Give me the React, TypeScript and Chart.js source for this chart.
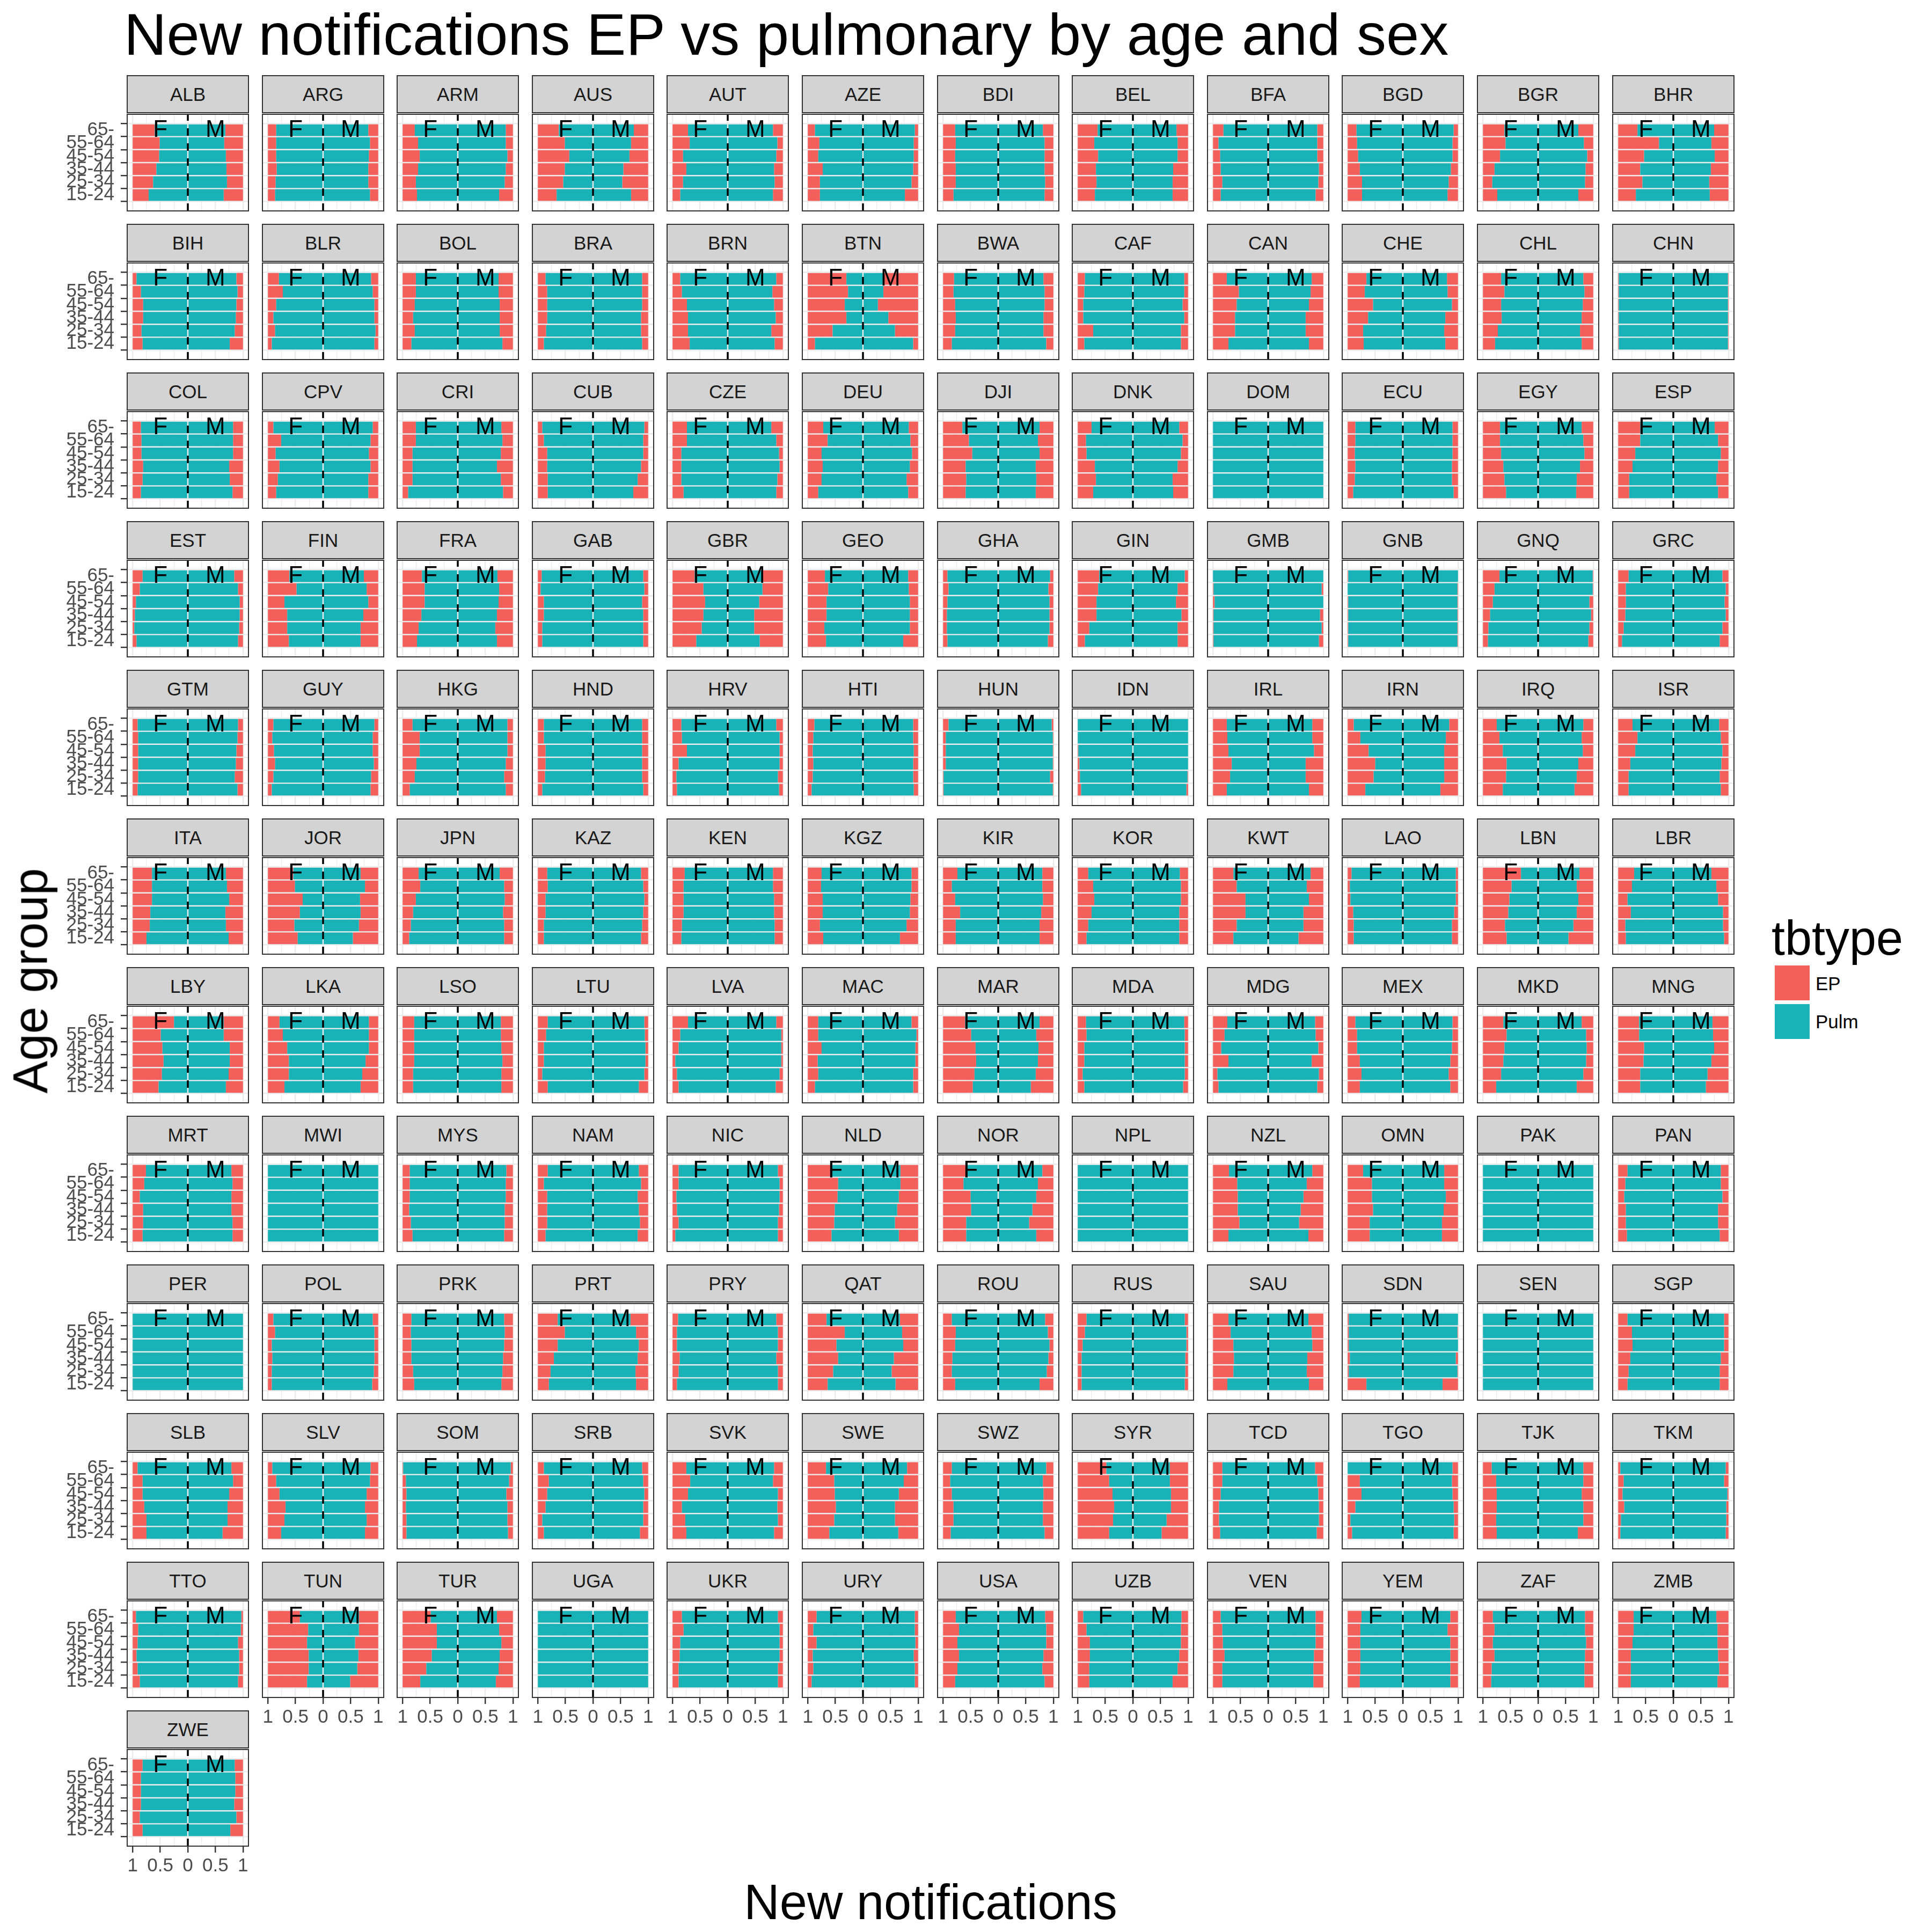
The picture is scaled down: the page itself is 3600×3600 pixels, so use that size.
import React, { useEffect, useRef } from "react";
import { Chart, registerables } from "chart.js";

Chart.register(...registerables);

// ---------------- data ----------------
const TITLE = "New notifications EP vs pulmonary by age and sex";
const X_TITLE = "New notifications";
const Y_TITLE = "Age group";
const LEGEND_TITLE = "tbtype";
const SERIES = ["EP", "Pulm"];
const SEX_LABELS = ["F", "M"];
// age groups listed from top row to bottom row of each panel
const AGE_GROUPS = ["65-", "55-64", "45-54", "35-44", "25-34", "15-24"];
const X_TICKS = [-1, -0.75, -0.5, -0.25, 0, 0.25, 0.5, 0.75, 1];
const X_MAJOR = [-1, -0.5, 0, 0.5, 1];

const COUNTRIES = [
  "ALB", "ARG", "ARM", "AUS", "AUT", "AZE", "BDI", "BEL", "BFA", "BGD", "BGR", "BHR",
  "BIH", "BLR", "BOL", "BRA", "BRN", "BTN", "BWA", "CAF", "CAN", "CHE", "CHL", "CHN",
  "COL", "CPV", "CRI", "CUB", "CZE", "DEU", "DJI", "DNK", "DOM", "ECU", "EGY", "ESP",
  "EST", "FIN", "FRA", "GAB", "GBR", "GEO", "GHA", "GIN", "GMB", "GNB", "GNQ", "GRC",
  "GTM", "GUY", "HKG", "HND", "HRV", "HTI", "HUN", "IDN", "IRL", "IRN", "IRQ", "ISR",
  "ITA", "JOR", "JPN", "KAZ", "KEN", "KGZ", "KIR", "KOR", "KWT", "LAO", "LBN", "LBR",
  "LBY", "LKA", "LSO", "LTU", "LVA", "MAC", "MAR", "MDA", "MDG", "MEX", "MKD", "MNG",
  "MRT", "MWI", "MYS", "NAM", "NIC", "NLD", "NOR", "NPL", "NZL", "OMN", "PAK", "PAN",
  "PER", "POL", "PRK", "PRT", "PRY", "QAT", "ROU", "RUS", "SAU", "SDN", "SEN", "SGP",
  "SLB", "SLV", "SOM", "SRB", "SVK", "SWE", "SWZ", "SYR", "TCD", "TGO", "TJK", "TKM",
  "TTO", "TUN", "TUR", "UGA", "UKR", "URY", "USA", "UZB", "VEN", "YEM", "ZAF", "ZMB",
  "ZWE",
];

// share of EP among female notifications, per country, age groups top to bottom
const EP_FEMALE = [
  [0.40, 0.49, 0.48, 0.43, 0.37, 0.29], // ALB
  [0.15, 0.15, 0.15, 0.16, 0.14, 0.13], // ARG
  [0.22, 0.28, 0.31, 0.28, 0.24, 0.26], // ARM
  [0.38, 0.49, 0.57, 0.49, 0.46, 0.34], // AUS
  [0.28, 0.31, 0.19, 0.25, 0.19, 0.14], // AUT
  [0.13, 0.21, 0.19, 0.27, 0.22, 0.22], // AZE
  [0.22, 0.23, 0.22, 0.23, 0.23, 0.19], // BDI
  [0.36, 0.30, 0.37, 0.33, 0.34, 0.31], // BEL
  [0.19, 0.10, 0.13, 0.14, 0.17, 0.14], // BFA
  [0.16, 0.17, 0.19, 0.22, 0.26, 0.26], // BGD
  [0.39, 0.41, 0.31, 0.21, 0.17, 0.26], // BGR
  [0.35, 0.74, 0.47, 0.40, 0.44, 0.32], // BHR
  [0.07, 0.15, 0.19, 0.19, 0.16, 0.18], // BIH
  [0.20, 0.27, 0.15, 0.10, 0.13, 0.07], // BLR
  [0.24, 0.24, 0.22, 0.19, 0.22, 0.16], // BOL
  [0.14, 0.17, 0.17, 0.17, 0.15, 0.11], // BRA
  [0.14, 0.17, 0.26, 0.28, 0.28, 0.31], // BRN
  [0.70, 0.73, 0.67, 0.70, 0.45, 0.13], // BTN
  [0.20, 0.19, 0.22, 0.23, 0.22, 0.16], // BWA
  [0.13, 0.12, 0.10, 0.10, 0.28, 0.12], // CAF
  [0.25, 0.47, 0.43, 0.40, 0.40, 0.28], // CAN
  [0.34, 0.31, 0.46, 0.37, 0.28, 0.29], // CHE
  [0.33, 0.39, 0.33, 0.34, 0.27, 0.22], // CHL
  [0.01, 0.01, 0.01, 0.01, 0.01, 0.01], // CHN
  [0.15, 0.16, 0.16, 0.19, 0.18, 0.15], // COL
  [0.10, 0.24, 0.14, 0.21, 0.18, 0.15], // CPV
  [0.24, 0.24, 0.18, 0.18, 0.18, 0.10], // CRI
  [0.08, 0.11, 0.17, 0.17, 0.18, 0.18], // CUB
  [0.26, 0.26, 0.16, 0.16, 0.16, 0.20], // CZE
  [0.28, 0.36, 0.25, 0.27, 0.25, 0.19], // DEU
  [0.35, 0.47, 0.53, 0.41, 0.42, 0.41], // DJI
  [0.25, 0.15, 0.16, 0.31, 0.33, 0.28], // DNK
  [0.00, 0.00, 0.00, 0.00, 0.00, 0.00], // DOM
  [0.14, 0.14, 0.13, 0.14, 0.13, 0.10], // ECU
  [0.31, 0.31, 0.33, 0.37, 0.39, 0.42], // EGY
  [0.40, 0.40, 0.31, 0.26, 0.20, 0.20], // ESP
  [0.18, 0.13, 0.06, 0.04, 0.03, 0.07], // EST
  [0.39, 0.52, 0.30, 0.35, 0.35, 0.38], // FIN
  [0.35, 0.40, 0.40, 0.34, 0.29, 0.26], // FRA
  [0.07, 0.05, 0.11, 0.11, 0.08, 0.08], // GAB
  [0.40, 0.56, 0.59, 0.56, 0.53, 0.43], // GBR
  [0.31, 0.37, 0.34, 0.34, 0.30, 0.33], // GEO
  [0.08, 0.10, 0.08, 0.07, 0.07, 0.08], // GHA
  [0.39, 0.37, 0.34, 0.34, 0.21, 0.13], // GIN
  [0.00, 0.01, 0.03, 0.01, 0.01, 0.01], // GMB
  [0.01, 0.00, 0.01, 0.01, 0.01, 0.01], // GNB
  [0.30, 0.21, 0.18, 0.13, 0.10, 0.09], // GNQ
  [0.19, 0.14, 0.14, 0.13, 0.10, 0.07], // GRC
  [0.09, 0.10, 0.10, 0.10, 0.10, 0.09], // GTM
  [0.10, 0.08, 0.11, 0.13, 0.10, 0.07], // GUY
  [0.18, 0.31, 0.31, 0.25, 0.22, 0.13], // HKG
  [0.11, 0.11, 0.14, 0.14, 0.13, 0.08], // HND
  [0.16, 0.17, 0.26, 0.11, 0.07, 0.08], // HRV
  [0.12, 0.10, 0.09, 0.10, 0.09, 0.07], // HTI
  [0.10, 0.05, 0.05, 0.05, 0.01, 0.01], // HUN
  [0.00, 0.00, 0.01, 0.03, 0.04, 0.06], // IDN
  [0.25, 0.26, 0.28, 0.34, 0.31, 0.25], // IRL
  [0.11, 0.23, 0.38, 0.50, 0.47, 0.32], // IRN
  [0.25, 0.30, 0.36, 0.43, 0.42, 0.36], // IRQ
  [0.26, 0.35, 0.31, 0.22, 0.19, 0.19], // ISR
  [0.35, 0.35, 0.35, 0.32, 0.31, 0.25], // ITA
  [0.46, 0.49, 0.63, 0.58, 0.48, 0.54], // JOR
  [0.29, 0.32, 0.24, 0.19, 0.15, 0.12], // JPN
  [0.17, 0.18, 0.14, 0.14, 0.11, 0.11], // KAZ
  [0.22, 0.20, 0.20, 0.20, 0.17, 0.16], // KEN
  [0.25, 0.24, 0.27, 0.27, 0.22, 0.28], // KGZ
  [0.26, 0.16, 0.22, 0.31, 0.23, 0.23], // KIR
  [0.19, 0.28, 0.30, 0.25, 0.19, 0.16], // KOR
  [0.37, 0.43, 0.59, 0.59, 0.43, 0.37], // KWT
  [0.07, 0.04, 0.05, 0.10, 0.11, 0.11], // LAO
  [0.69, 0.52, 0.48, 0.46, 0.40, 0.43], // LBN
  [0.29, 0.25, 0.17, 0.23, 0.13, 0.14], // LBR
  [0.75, 0.51, 0.54, 0.56, 0.53, 0.47], // LBY
  [0.21, 0.27, 0.35, 0.38, 0.38, 0.30], // LKA
  [0.21, 0.21, 0.21, 0.21, 0.19, 0.19], // LSO
  [0.18, 0.15, 0.11, 0.11, 0.08, 0.18], // LTU
  [0.28, 0.14, 0.11, 0.05, 0.08, 0.11], // LVA
  [0.19, 0.19, 0.25, 0.18, 0.19, 0.13], // MAC
  [0.40, 0.51, 0.59, 0.60, 0.57, 0.54], // MAR
  [0.15, 0.16, 0.12, 0.12, 0.09, 0.12], // MDA
  [0.26, 0.21, 0.15, 0.28, 0.08, 0.10], // MDG
  [0.14, 0.17, 0.17, 0.22, 0.25, 0.22], // MEX
  [0.37, 0.43, 0.39, 0.37, 0.33, 0.24], // MKD
  [0.38, 0.38, 0.47, 0.46, 0.40, 0.40], // MNG
  [0.24, 0.21, 0.13, 0.19, 0.19, 0.18], // MRT
  [0.00, 0.00, 0.00, 0.00, 0.00, 0.00], // MWI
  [0.13, 0.13, 0.13, 0.12, 0.15, 0.18], // MYS
  [0.18, 0.11, 0.17, 0.17, 0.17, 0.14], // NAM
  [0.11, 0.11, 0.07, 0.08, 0.11, 0.05], // NIC
  [0.42, 0.55, 0.54, 0.49, 0.48, 0.43], // NLD
  [0.41, 0.37, 0.50, 0.51, 0.42, 0.42], // NOR
  [0.00, 0.00, 0.00, 0.00, 0.00, 0.00], // NPL
  [0.29, 0.44, 0.45, 0.45, 0.48, 0.28], // NZL
  [0.28, 0.44, 0.44, 0.46, 0.40, 0.40], // OMN
  [0.00, 0.00, 0.00, 0.00, 0.00, 0.00], // PAK
  [0.17, 0.13, 0.11, 0.14, 0.14, 0.16], // PAN
  [0.00, 0.00, 0.00, 0.00, 0.00, 0.00], // PER
  [0.10, 0.13, 0.07, 0.08, 0.07, 0.07], // POL
  [0.16, 0.15, 0.16, 0.16, 0.19, 0.21], // PRK
  [0.36, 0.49, 0.36, 0.29, 0.23, 0.20], // PRT
  [0.10, 0.08, 0.08, 0.13, 0.11, 0.08], // PRY
  [0.34, 0.67, 0.52, 0.55, 0.46, 0.36], // QAT
  [0.16, 0.23, 0.22, 0.17, 0.16, 0.22], // ROU
  [0.16, 0.13, 0.09, 0.07, 0.07, 0.07], // RUS
  [0.28, 0.32, 0.37, 0.38, 0.37, 0.26], // SAU
  [0.02, 0.02, 0.02, 0.04, 0.02, 0.34], // SDN
  [0.00, 0.00, 0.00, 0.00, 0.00, 0.00], // SEN
  [0.17, 0.25, 0.26, 0.22, 0.19, 0.17], // SGP
  [0.09, 0.18, 0.18, 0.21, 0.25, 0.25], // SLB
  [0.08, 0.15, 0.21, 0.32, 0.30, 0.24], // SLV
  [0.01, 0.06, 0.07, 0.06, 0.07, 0.07], // SOM
  [0.11, 0.20, 0.17, 0.14, 0.08, 0.11], // SRB
  [0.25, 0.32, 0.28, 0.17, 0.23, 0.25], // SVK
  [0.33, 0.48, 0.49, 0.51, 0.48, 0.39], // SWE
  [0.16, 0.13, 0.16, 0.19, 0.19, 0.14], // SWZ
  [0.52, 0.57, 0.63, 0.66, 0.64, 0.57], // SYR
  [0.17, 0.17, 0.14, 0.11, 0.11, 0.13], // TCD
  [0.00, 0.22, 0.25, 0.14, 0.05, 0.08], // TGO
  [0.16, 0.24, 0.25, 0.25, 0.24, 0.25], // TJK
  [0.04, 0.10, 0.08, 0.11, 0.05, 0.04], // TKM
  [0.06, 0.10, 0.09, 0.07, 0.09, 0.13], // TTO
  [0.58, 0.73, 0.71, 0.74, 0.74, 0.71], // TUN
  [0.51, 0.62, 0.62, 0.53, 0.43, 0.32], // TUR
  [0.00, 0.00, 0.00, 0.00, 0.00, 0.00], // UGA
  [0.17, 0.20, 0.14, 0.13, 0.11, 0.11], // UKR
  [0.16, 0.10, 0.16, 0.09, 0.10, 0.07], // URY
  [0.23, 0.29, 0.26, 0.29, 0.26, 0.22], // USA
  [0.10, 0.16, 0.22, 0.22, 0.21, 0.21], // UZB
  [0.14, 0.17, 0.18, 0.21, 0.17, 0.17], // VEN
  [0.25, 0.23, 0.23, 0.23, 0.23, 0.22], // YEM
  [0.18, 0.21, 0.18, 0.21, 0.16, 0.15], // ZAF
  [0.28, 0.28, 0.26, 0.23, 0.23, 0.23], // ZMB
  [0.18, 0.15, 0.15, 0.15, 0.13, 0.18], // ZWE
];

// share of EP among male notifications, per country, age groups top to bottom
const EP_MALE = [
  [0.32, 0.34, 0.31, 0.30, 0.29, 0.35], // ALB
  [0.18, 0.15, 0.17, 0.18, 0.18, 0.15], // ARG
  [0.13, 0.13, 0.10, 0.13, 0.15, 0.25], // ARM
  [0.26, 0.31, 0.34, 0.45, 0.47, 0.31], // AUS
  [0.18, 0.10, 0.12, 0.16, 0.15, 0.18], // AUT
  [0.06, 0.08, 0.08, 0.09, 0.12, 0.24], // AZE
  [0.19, 0.16, 0.16, 0.16, 0.15, 0.16], // BDI
  [0.21, 0.19, 0.19, 0.27, 0.28, 0.28], // BEL
  [0.11, 0.11, 0.11, 0.08, 0.09, 0.14], // BFA
  [0.08, 0.10, 0.10, 0.13, 0.17, 0.19], // BGD
  [0.27, 0.17, 0.11, 0.14, 0.15, 0.27], // BGR
  [0.26, 0.31, 0.25, 0.32, 0.35, 0.34], // BHR
  [0.12, 0.10, 0.12, 0.13, 0.15, 0.24], // BIH
  [0.13, 0.10, 0.07, 0.07, 0.05, 0.07], // BLR
  [0.26, 0.26, 0.24, 0.24, 0.24, 0.19], // BOL
  [0.11, 0.11, 0.11, 0.13, 0.13, 0.11], // BRA
  [0.12, 0.19, 0.16, 0.13, 0.21, 0.15], // BRN
  [0.61, 0.63, 0.73, 0.54, 0.42, 0.09], // BTN
  [0.18, 0.16, 0.16, 0.18, 0.18, 0.13], // BWA
  [0.07, 0.07, 0.10, 0.07, 0.13, 0.13], // CAF
  [0.21, 0.23, 0.26, 0.32, 0.32, 0.26], // CAN
  [0.20, 0.19, 0.11, 0.23, 0.25, 0.23], // CHE
  [0.18, 0.16, 0.19, 0.21, 0.24, 0.21], // CHL
  [0.01, 0.01, 0.01, 0.01, 0.01, 0.01], // CHN
  [0.18, 0.18, 0.18, 0.25, 0.24, 0.19], // COL
  [0.10, 0.14, 0.17, 0.14, 0.18, 0.18], // CPV
  [0.21, 0.19, 0.22, 0.29, 0.22, 0.18], // CRI
  [0.07, 0.09, 0.09, 0.13, 0.19, 0.27], // CUB
  [0.21, 0.12, 0.07, 0.06, 0.10, 0.12], // CZE
  [0.17, 0.14, 0.11, 0.15, 0.21, 0.18], // DEU
  [0.25, 0.28, 0.25, 0.32, 0.31, 0.32], // DJI
  [0.16, 0.10, 0.13, 0.19, 0.28, 0.27], // DNK
  [0.00, 0.00, 0.00, 0.00, 0.00, 0.00], // DOM
  [0.10, 0.10, 0.10, 0.11, 0.11, 0.08], // ECU
  [0.21, 0.18, 0.16, 0.24, 0.30, 0.31], // EGY
  [0.25, 0.19, 0.14, 0.19, 0.22, 0.19], // ESP
  [0.16, 0.09, 0.06, 0.06, 0.07, 0.09], // EST
  [0.26, 0.21, 0.18, 0.27, 0.32, 0.32], // FIN
  [0.28, 0.25, 0.26, 0.29, 0.32, 0.29], // FRA
  [0.09, 0.07, 0.11, 0.09, 0.09, 0.09], // GAB
  [0.37, 0.37, 0.43, 0.52, 0.52, 0.42], // GBR
  [0.18, 0.17, 0.15, 0.15, 0.15, 0.27], // GEO
  [0.06, 0.09, 0.07, 0.07, 0.07, 0.10], // GHA
  [0.06, 0.19, 0.22, 0.12, 0.19, 0.19], // GIN
  [0.00, 0.03, 0.00, 0.06, 0.03, 0.08], // GMB
  [0.00, 0.01, 0.01, 0.01, 0.01, 0.01], // GNB
  [0.01, 0.01, 0.07, 0.04, 0.07, 0.09], // GNQ
  [0.11, 0.05, 0.07, 0.05, 0.11, 0.16], // GRC
  [0.09, 0.10, 0.12, 0.13, 0.15, 0.10], // GTM
  [0.07, 0.10, 0.10, 0.08, 0.13, 0.14], // GUY
  [0.10, 0.10, 0.10, 0.13, 0.16, 0.13], // HKG
  [0.11, 0.11, 0.11, 0.11, 0.11, 0.09], // HND
  [0.12, 0.06, 0.06, 0.06, 0.09, 0.07], // HRV
  [0.09, 0.09, 0.08, 0.09, 0.09, 0.08], // HTI
  [0.03, 0.01, 0.01, 0.01, 0.06, 0.01], // HUN
  [0.00, 0.00, 0.00, 0.00, 0.01, 0.03], // IDN
  [0.20, 0.20, 0.17, 0.32, 0.32, 0.26], // IRL
  [0.16, 0.22, 0.25, 0.25, 0.25, 0.32], // IRN
  [0.18, 0.21, 0.19, 0.27, 0.30, 0.34], // IRQ
  [0.17, 0.14, 0.11, 0.13, 0.16, 0.14], // ISR
  [0.31, 0.29, 0.25, 0.32, 0.31, 0.26], // ITA
  [0.32, 0.24, 0.33, 0.32, 0.35, 0.46], // JOR
  [0.24, 0.16, 0.15, 0.18, 0.16, 0.16], // JPN
  [0.13, 0.09, 0.07, 0.09, 0.11, 0.13], // KAZ
  [0.18, 0.18, 0.16, 0.16, 0.15, 0.15], // KEN
  [0.12, 0.12, 0.14, 0.15, 0.21, 0.33], // KGZ
  [0.20, 0.20, 0.19, 0.22, 0.25, 0.25], // KIR
  [0.15, 0.13, 0.13, 0.16, 0.16, 0.16], // KOR
  [0.23, 0.30, 0.26, 0.36, 0.36, 0.45], // KWT
  [0.04, 0.04, 0.04, 0.07, 0.11, 0.11], // LAO
  [0.25, 0.30, 0.27, 0.30, 0.36, 0.45], // LBN
  [0.31, 0.22, 0.19, 0.10, 0.10, 0.08], // LBR
  [0.35, 0.35, 0.24, 0.24, 0.26, 0.31], // LBY
  [0.17, 0.17, 0.17, 0.23, 0.29, 0.32], // LKA
  [0.22, 0.22, 0.21, 0.19, 0.21, 0.21], // LSO
  [0.07, 0.06, 0.05, 0.05, 0.07, 0.17], // LTU
  [0.12, 0.03, 0.03, 0.03, 0.06, 0.13], // LVA
  [0.12, 0.03, 0.05, 0.05, 0.09, 0.09], // MAC
  [0.25, 0.31, 0.27, 0.28, 0.32, 0.41], // MAR
  [0.07, 0.06, 0.06, 0.06, 0.06, 0.09], // MDA
  [0.15, 0.14, 0.09, 0.21, 0.08, 0.11], // MDG
  [0.10, 0.10, 0.11, 0.14, 0.17, 0.14], // MEX
  [0.21, 0.13, 0.12, 0.13, 0.18, 0.30], // MKD
  [0.29, 0.28, 0.26, 0.31, 0.38, 0.41], // MNG
  [0.21, 0.19, 0.21, 0.21, 0.19, 0.19], // MRT
  [0.00, 0.00, 0.00, 0.00, 0.00, 0.00], // MWI
  [0.12, 0.13, 0.13, 0.15, 0.15, 0.16], // MYS
  [0.17, 0.13, 0.19, 0.17, 0.15, 0.19], // NAM
  [0.09, 0.06, 0.06, 0.07, 0.09, 0.09], // NIC
  [0.32, 0.32, 0.35, 0.38, 0.42, 0.35], // NLD
  [0.20, 0.28, 0.31, 0.38, 0.44, 0.31], // NOR
  [0.00, 0.00, 0.00, 0.00, 0.00, 0.00], // NPL
  [0.20, 0.30, 0.36, 0.41, 0.44, 0.27], // NZL
  [0.25, 0.25, 0.22, 0.26, 0.29, 0.29], // OMN
  [0.00, 0.00, 0.00, 0.00, 0.00, 0.00], // PAK
  [0.14, 0.14, 0.11, 0.19, 0.19, 0.16], // PAN
  [0.00, 0.00, 0.00, 0.00, 0.00, 0.00], // PER
  [0.10, 0.07, 0.07, 0.07, 0.08, 0.11], // POL
  [0.16, 0.15, 0.16, 0.18, 0.19, 0.21], // PRK
  [0.32, 0.22, 0.17, 0.19, 0.23, 0.22], // PRT
  [0.12, 0.09, 0.09, 0.12, 0.09, 0.09], // PRY
  [0.33, 0.29, 0.27, 0.44, 0.48, 0.41], // QAT
  [0.15, 0.10, 0.07, 0.09, 0.12, 0.25], // ROU
  [0.06, 0.03, 0.03, 0.05, 0.05, 0.06], // RUS
  [0.27, 0.21, 0.20, 0.29, 0.30, 0.26], // SAU
  [0.00, 0.01, 0.00, 0.04, 0.01, 0.28], // SDN
  [0.00, 0.00, 0.00, 0.00, 0.00, 0.00], // SEN
  [0.08, 0.08, 0.08, 0.14, 0.16, 0.16], // SGP
  [0.21, 0.18, 0.25, 0.28, 0.28, 0.37], // SLB
  [0.14, 0.15, 0.21, 0.24, 0.21, 0.24], // SLV
  [0.04, 0.07, 0.12, 0.10, 0.10, 0.09], // SOM
  [0.11, 0.09, 0.07, 0.09, 0.09, 0.15], // SRB
  [0.16, 0.18, 0.09, 0.10, 0.09, 0.16], // SVK
  [0.20, 0.26, 0.35, 0.42, 0.42, 0.36], // SWE
  [0.13, 0.19, 0.18, 0.19, 0.19, 0.16], // SWZ
  [0.33, 0.33, 0.31, 0.31, 0.39, 0.48], // SYR
  [0.15, 0.11, 0.09, 0.08, 0.08, 0.12], // TCD
  [0.10, 0.11, 0.10, 0.08, 0.07, 0.08], // TGO
  [0.18, 0.18, 0.21, 0.18, 0.18, 0.28], // TJK
  [0.05, 0.08, 0.02, 0.04, 0.04, 0.05], // TKM
  [0.03, 0.04, 0.09, 0.07, 0.07, 0.09], // TTO
  [0.35, 0.35, 0.42, 0.36, 0.38, 0.51], // TUN
  [0.29, 0.25, 0.21, 0.24, 0.26, 0.31], // TUR
  [0.00, 0.00, 0.00, 0.00, 0.00, 0.00], // UGA
  [0.09, 0.06, 0.06, 0.06, 0.09, 0.09], // UKR
  [0.06, 0.06, 0.05, 0.08, 0.06, 0.06], // URY
  [0.15, 0.13, 0.13, 0.18, 0.20, 0.16], // USA
  [0.12, 0.13, 0.13, 0.16, 0.19, 0.28], // UZB
  [0.14, 0.14, 0.14, 0.17, 0.18, 0.18], // VEN
  [0.14, 0.19, 0.14, 0.14, 0.14, 0.14], // YEM
  [0.15, 0.15, 0.13, 0.15, 0.16, 0.16], // ZAF
  [0.22, 0.20, 0.20, 0.19, 0.17, 0.20], // ZMB
  [0.15, 0.14, 0.14, 0.16, 0.12, 0.23], // ZWE
];

// ---------------- styles / layout ----------------
const FONT = "'Liberation Sans', Arial, Helvetica, sans-serif";
const EP_COLOR = "#F35F5B";
const PULM_COLOR = "#19B2B7";
const GRID_COLOR = "#EBEBEB";
const DARK = "#333333";
const TICK_TEXT = "#4D4D4D";
const STRIP_FILL = "#D3D3D3";

const NCOL = 12;
const PANEL_X0 = 237;
const COL_PITCH = 251.6;
const PANEL_W = 226;
const STRIP_Y0 = 141;
const ROW_PITCH = 277;
const STRIP_H = 70;
const PLOT_Y0 = 213;
const PANEL_H = 180;
const Y_AXIS_W = 130;
const X_AXIS_H = 60;
const PAD = 6;

const zeroScalePadding = (s: any) => {
  s.paddingLeft = 0;
  s.paddingRight = 0;
  s.paddingTop = 0;
  s.paddingBottom = 0;
};

const panelDecor = {
  id: "panelDecor",
  afterDatasetsDraw(chart: any) {
    const { ctx, chartArea: a, scales } = chart;
    const xs = scales.x;
    const ys = scales.y;
    ctx.save();
    // dashed centre line
    const x0 = xs.getPixelForValue(0);
    ctx.strokeStyle = "#000000";
    ctx.lineWidth = 3.5;
    ctx.setLineDash([14, 14]);
    ctx.beginPath();
    ctx.moveTo(x0, a.bottom);
    ctx.lineTo(x0, a.top);
    ctx.stroke();
    ctx.setLineDash([]);
    // F / M labels at the top age group
    ctx.fillStyle = "#000000";
    ctx.font = `44px ${FONT}`;
    ctx.textAlign = "center";
    ctx.textBaseline = "middle";
    const yTop = ys.getPixelForValue(AGE_GROUPS.length);
    ctx.fillText(SEX_LABELS[0], xs.getPixelForValue(-0.5), yTop);
    ctx.fillText(SEX_LABELS[1], xs.getPixelForValue(0.5), yTop);
    // panel border
    ctx.strokeStyle = DARK;
    ctx.lineWidth = 2;
    ctx.strokeRect(a.left, a.top, a.right - a.left, a.bottom - a.top);
    ctx.restore();
  },
};

function Panel({ index }: { index: number }) {
  const ref = useRef<HTMLCanvasElement | null>(null);
  const row = Math.floor(index / NCOL);
  const col = index % NCOL;
  const isLeft = col === 0;
  const isBottom = index + NCOL >= COUNTRIES.length;
  const plotLeft = Math.round(PANEL_X0 + col * COL_PITCH);
  const plotTop = Math.round(PLOT_Y0 + row * ROW_PITCH);
  const stripTop = Math.round(STRIP_Y0 + row * ROW_PITCH);
  const leftM = PAD + (isLeft ? Y_AXIS_W : 0);
  const bottomM = PAD + (isBottom ? X_AXIS_H : 0);
  const cw = leftM + PANEL_W + PAD;
  const ch = PAD + PANEL_H + bottomM;

  useEffect(() => {
    if (!ref.current) return;
    const f = EP_FEMALE[index];
    const m = EP_MALE[index];
    const nAge = AGE_GROUPS.length;
    const pts = (vals: number[]) =>
      vals
        .map((v, i) => ({ x: v, y: nAge - i }))
        .filter((p) => Math.abs(p.x) > 1e-9);
    const base = {
      stack: "s",
      barPercentage: 0.9,
      categoryPercentage: 1,
      borderWidth: 0,
    };
    const datasets = [
      { ...base, label: SERIES[1], data: pts(f.map((v) => -(1 - v))), backgroundColor: PULM_COLOR },
      { ...base, label: SERIES[0], data: pts(f.map((v) => -v)), backgroundColor: EP_COLOR },
      { ...base, label: SERIES[1], data: pts(m.map((v) => 1 - v)), backgroundColor: PULM_COLOR },
      { ...base, label: SERIES[0], data: pts(m), backgroundColor: EP_COLOR },
    ];
    const isMajor = (v: any) => X_MAJOR.some((t) => Math.abs(t - v) < 1e-9);
    const chart = new Chart(ref.current, {
      type: "bar",
      data: { datasets } as any,
      options: {
        indexAxis: "y",
        animation: false,
        responsive: false,
        maintainAspectRatio: false,
        devicePixelRatio: 1,
        events: [],
        layout: { padding: { left: PAD, right: PAD, top: PAD, bottom: PAD }, autoPadding: false },
        plugins: {
          legend: { display: false },
          tooltip: { enabled: false },
          title: { display: false },
        },
        scales: {
          x: {
            type: "linear",
            min: -1.1,
            max: 1.1,
            bounds: "data",
            stacked: true,
            afterBuildTicks: (s: any) => {
              s.ticks = X_TICKS.map((v) => ({ value: v }));
            },
            afterFit: (s: any) => {
              s.height = isBottom ? X_AXIS_H : 0;
              zeroScalePadding(s);
            },
            border: { display: false },
            grid: {
              color: GRID_COLOR,
              lineWidth: (c: any) => (isMajor(c.tick && c.tick.value) ? 2.4 : 1.2),
              drawTicks: isBottom,
              tickLength: 12,
              tickWidth: 2.4,
              tickColor: (c: any) => (isMajor(c.tick && c.tick.value) ? DARK : "rgba(0,0,0,0)"),
            },
            ticks: {
              display: isBottom,
              autoSkip: false,
              maxRotation: 0,
              minRotation: 0,
              padding: 4,
              color: TICK_TEXT,
              font: { family: FONT, size: 35, lineHeight: 1.2 },
              callback: (v: any) => (isMajor(v) ? String(Math.abs(v)) : ""),
            },
          },
          y: {
            type: "linear",
            min: 0.4,
            max: AGE_GROUPS.length + 0.6,
            bounds: "data",
            stacked: true,
            afterBuildTicks: (s: any) => {
              s.ticks = AGE_GROUPS.map((_, i) => ({ value: i + 1 }));
            },
            afterFit: (s: any) => {
              s.width = isLeft ? Y_AXIS_W : 0;
              zeroScalePadding(s);
            },
            border: { display: false },
            grid: {
              color: GRID_COLOR,
              lineWidth: 2.4,
              drawTicks: isLeft,
              tickLength: 12,
              tickWidth: 2.4,
              tickColor: DARK,
            },
            ticks: {
              display: isLeft,
              autoSkip: false,
              padding: 12,
              color: TICK_TEXT,
              font: { family: FONT, size: 35 },
              callback: (v: any) => AGE_GROUPS[AGE_GROUPS.length - v] ?? "",
            },
          },
        },
      } as any,
      plugins: [panelDecor],
    });
    return () => chart.destroy();
  }, [index]);

  return (
    <>
      <div
        style={{
          position: "absolute",
          left: plotLeft - 1,
          top: stripTop - 1,
          width: PANEL_W + 2,
          height: STRIP_H + 1,
          boxSizing: "border-box",
          border: `2px solid ${DARK}`,
          background: STRIP_FILL,
          display: "flex",
          alignItems: "center",
          justifyContent: "center",
          fontFamily: FONT,
          fontSize: 35,
          lineHeight: "35px",
          color: "#1A1A1A",
        }}
      >
        {COUNTRIES[index]}
      </div>
      <canvas
        ref={ref}
        width={cw}
        height={ch}
        style={{
          position: "absolute",
          left: plotLeft - leftM,
          top: plotTop - PAD,
          width: cw,
          height: ch,
        }}
      />
    </>
  );
}

export default function App() {
  return (
    <div
      style={{
        position: "absolute",
        left: 0,
        top: 0,
        width: 3600,
        height: 3600,
        background: "#FFFFFF",
        fontFamily: FONT,
        overflow: "hidden",
      }}
    >
      <div
        style={{
          position: "absolute",
          left: 231,
          top: 9,
          fontSize: 110,
          lineHeight: "110px",
          whiteSpace: "nowrap",
          color: "#000000",
        }}
      >
        {TITLE}
      </div>

      {COUNTRIES.map((c, i) => (
        <Panel key={c} index={i} />
      ))}

      <div
        style={{
          position: "absolute",
          left: 1734 - 1000,
          top: 3498,
          width: 2000,
          textAlign: "center",
          fontSize: 92,
          lineHeight: "92px",
          whiteSpace: "nowrap",
          color: "#000000",
        }}
      >
        {X_TITLE}
      </div>

      <div
        style={{
          position: "absolute",
          left: 56 - 400,
          top: 1827 - 45,
          width: 800,
          height: 91,
          textAlign: "center",
          fontSize: 91,
          lineHeight: "91px",
          whiteSpace: "nowrap",
          color: "#000000",
          transform: "rotate(-90deg)",
        }}
      >
        {Y_TITLE}
      </div>

      <div
        style={{
          position: "absolute",
          left: 3301,
          top: 1703,
          fontSize: 90,
          lineHeight: "90px",
          whiteSpace: "nowrap",
          color: "#000000",
        }}
      >
        {LEGEND_TITLE}
      </div>
      {SERIES.map((s, i) => (
        <React.Fragment key={s}>
          <div
            style={{
              position: "absolute",
              left: 3307,
              top: 1799 + i * 72,
              width: 65,
              height: 65,
              background: i === 0 ? EP_COLOR : PULM_COLOR,
            }}
          />
          <div
            style={{
              position: "absolute",
              left: 3383,
              top: 1815 + i * 71,
              fontSize: 35,
              lineHeight: "35px",
              whiteSpace: "nowrap",
              color: "#000000",
            }}
          >
            {s}
          </div>
        </React.Fragment>
      ))}
    </div>
  );
}
